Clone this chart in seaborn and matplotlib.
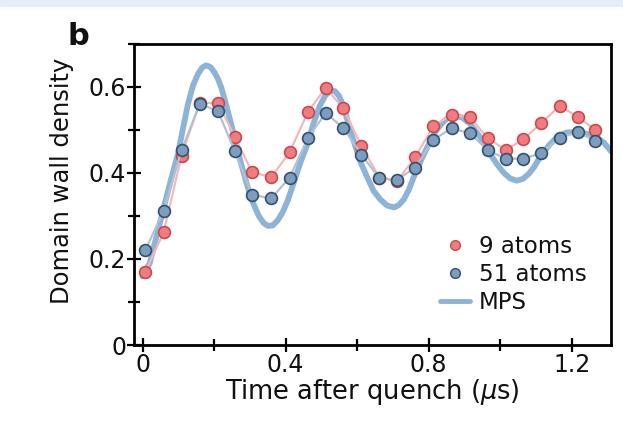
import numpy as np
import pandas as pd
import matplotlib
matplotlib.use("Agg")
import matplotlib.pyplot as plt
import seaborn as sns
from matplotlib.lines import Line2D
from matplotlib.patches import Rectangle
from matplotlib.ticker import MultipleLocator, FuncFormatter

# ---- data ----
time_data = [0.008, 0.059, 0.109, 0.160, 0.211, 0.258, 0.306, 0.360, 0.411, 0.462,
             0.512, 0.561, 0.612, 0.662, 0.711, 0.762, 0.813, 0.864, 0.915, 0.965,
             1.015, 1.064, 1.115, 1.166, 1.217, 1.266]
atoms9 = [0.170, 0.262, 0.440, 0.563, 0.562, 0.484, 0.402, 0.390, 0.448, 0.541,
          0.598, 0.550, 0.463, 0.389, 0.381, 0.436, 0.509, 0.535, 0.529, 0.481,
          0.453, 0.478, 0.516, 0.556, 0.530, 0.500]
atoms51 = [0.221, 0.312, 0.453, 0.560, 0.544, 0.450, 0.349, 0.341, 0.389, 0.481,
           0.539, 0.505, 0.442, 0.388, 0.384, 0.412, 0.477, 0.504, 0.492, 0.453,
           0.433, 0.433, 0.446, 0.482, 0.495, 0.474]
time_mps = [0.000, 0.020, 0.040, 0.062, 0.080, 0.099, 0.113, 0.127, 0.141, 0.155,
            0.167, 0.178, 0.190, 0.200, 0.210, 0.220, 0.238, 0.257, 0.275, 0.294,
            0.310, 0.325, 0.338, 0.350, 0.364, 0.378, 0.392, 0.406, 0.425, 0.443,
            0.461, 0.478, 0.495, 0.511, 0.526, 0.538, 0.550, 0.561, 0.573, 0.590,
            0.608, 0.628, 0.646, 0.665, 0.684, 0.703, 0.716, 0.730, 0.744, 0.758,
            0.782, 0.805, 0.822, 0.840, 0.855, 0.870, 0.893, 0.916, 0.944, 0.972,
            0.991, 1.010, 1.028, 1.046, 1.063, 1.080, 1.095, 1.111, 1.135, 1.158,
            1.185, 1.213, 1.241, 1.269, 1.290, 1.310]
mps = [0.160, 0.190, 0.255, 0.328, 0.386, 0.444, 0.503, 0.560, 0.603, 0.630,
       0.645, 0.650, 0.646, 0.635, 0.620, 0.599, 0.545, 0.483, 0.423, 0.367,
       0.328, 0.300, 0.284, 0.277, 0.278, 0.290, 0.309, 0.336, 0.383, 0.428,
       0.467, 0.515, 0.555, 0.580, 0.591, 0.590, 0.578, 0.556, 0.522, 0.475,
       0.428, 0.390, 0.358, 0.338, 0.324, 0.320, 0.325, 0.338, 0.360, 0.390,
       0.436, 0.475, 0.500, 0.518, 0.529, 0.533, 0.529, 0.514, 0.483, 0.444,
       0.420, 0.400, 0.387, 0.382, 0.386, 0.398, 0.414, 0.437, 0.463, 0.483,
       0.494, 0.495, 0.491, 0.483, 0.470, 0.450]
legend_labels = ["9 atoms", "51 atoms", "MPS"]
x_ticks = [0, 0.4, 0.8, 1.2]
y_ticks = [0, 0.2, 0.4, 0.6]

sns.set_theme(style="ticks")
plt.rcParams["font.family"] = ["DejaVu Sans"]
plt.rcParams["mathtext.fontset"] = "dejavusans"

RED_FACE = "#f27b80"
RED_EDGE = "#c54a52"
RED_LINE = "#f3b9ba"
BLUE_FACE = "#7d9dbf"
BLUE_EDGE = "#34506e"
BLUE_LINE = "#b3c2d0"
MPS_COL = "#8db4d6"
TEXT_COL = "#111111"

fig = plt.figure(figsize=(6.23, 4.34), dpi=100)
fig.patches.append(Rectangle((0, 0.986), 1, 0.014, transform=fig.transFigure,
                             color="#e4eef8", zorder=0))
ax = fig.add_axes([0.215, 0.205, 0.766, 0.694])

df_mps = pd.DataFrame({"t": time_mps, "v": mps})
df9 = pd.DataFrame({"t": time_data, "v": atoms9})
df51 = pd.DataFrame({"t": time_data, "v": atoms51})

sns.lineplot(data=df_mps, x="t", y="v", ax=ax, color=MPS_COL, lw=4.2,
             solid_capstyle="round", solid_joinstyle="round", zorder=2, sort=False)
sns.lineplot(data=df9, x="t", y="v", ax=ax, color=RED_LINE, lw=1.6, zorder=3,
             marker="o", markersize=8.5, markerfacecolor=RED_FACE,
             markeredgecolor=RED_EDGE, markeredgewidth=1.2, sort=False)
sns.lineplot(data=df51, x="t", y="v", ax=ax, color=BLUE_LINE, lw=1.6, zorder=4,
             marker="o", markersize=8.5, markerfacecolor=BLUE_FACE,
             markeredgecolor=BLUE_EDGE, markeredgewidth=1.2, sort=False)

ax.set_xlim(-0.024, 1.31)
ax.set_ylim(0, 0.70)
ax.set_xticks(x_ticks)
ax.set_yticks(y_ticks)
ax.xaxis.set_minor_locator(MultipleLocator(0.2))
ax.yaxis.set_minor_locator(MultipleLocator(0.1))
fmt = FuncFormatter(lambda v, p: f"{v:g}")
ax.xaxis.set_major_formatter(fmt)
ax.yaxis.set_major_formatter(fmt)
ax.tick_params(which="both", direction="inout", width=1.6, colors="black",
               labelcolor=TEXT_COL, labelsize=17)
ax.tick_params(which="major", length=10)
ax.tick_params(which="minor", length=8)
ax.tick_params(axis="x", which="major", pad=0.5)
ax.tick_params(axis="y", which="major", pad=0.5)
for s in ax.spines.values():
    s.set_linewidth(2.0)
    s.set_color("black")
    s.set_visible(True)

ax.set_xlabel(r"Time after quench ($\mu$s)", fontsize=18.5, labelpad=0.5,
              color=TEXT_COL)
ax.set_ylabel("Domain wall density", fontsize=17.5, color=TEXT_COL)
ax.yaxis.set_label_coords(-0.125, 0.545)

handles = [
    Line2D([], [], ls="none", marker="o", markersize=7, markerfacecolor=RED_FACE,
           markeredgecolor=RED_EDGE, markeredgewidth=1.0),
    Line2D([], [], ls="none", marker="o", markersize=7, markerfacecolor=BLUE_FACE,
           markeredgecolor=BLUE_EDGE, markeredgewidth=1.0),
    Line2D([], [], color=MPS_COL, lw=3.5),
]
leg = ax.legend(handles, legend_labels, loc="upper left", bbox_to_anchor=(0.641, 0.364),
                frameon=False, fontsize=16.5, handlelength=1.3, handletextpad=0.4,
                labelspacing=0.22, borderaxespad=0, borderpad=0)
for t in leg.get_texts():
    t.set_color(TEXT_COL)

fig.text(0.125, 0.915, "b", fontsize=22, fontweight="bold", ha="center", va="center",
         color=TEXT_COL)

fig.savefig("out.png", dpi=100)
